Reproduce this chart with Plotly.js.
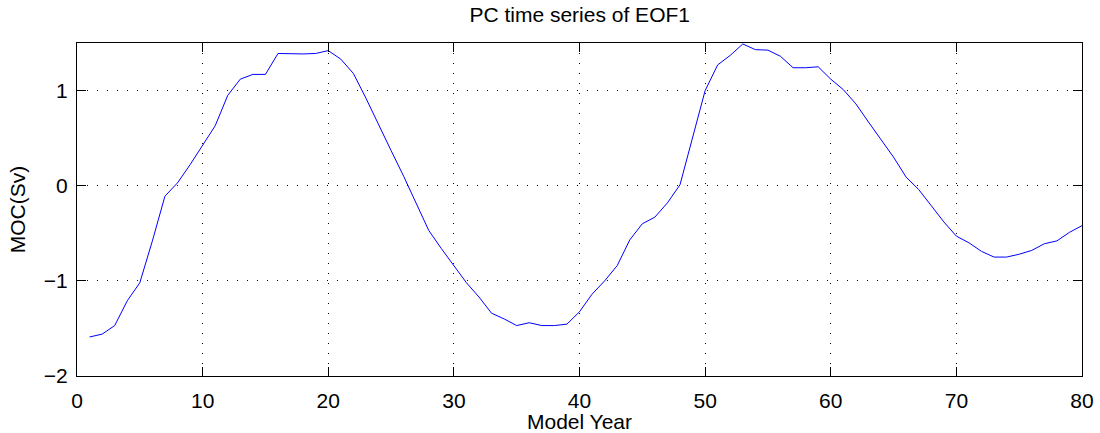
<!DOCTYPE html>
<html>
<head>
<meta charset="utf-8">
<script src="https://cdn.plot.ly/plotly-3.0.1.min.js"></script>
<style>html,body{margin:0;padding:0;background:#fff;}#chart{width:1100px;height:433px;}</style>
</head>
<body>
<div id="chart"></div>
<script>
const years = [];
for (let i = 1; i <= 80; i++) years.push(i);
const pcValues = [
  -1.59, -1.56, -1.47, -1.21, -1.02, -0.58, -0.11, 0.03, 0.22, 0.43,
  0.63, 0.95, 1.12, 1.17, 1.17, 1.39, 1.385, 1.385, 1.39, 1.42,
  1.33, 1.18, 0.92, 0.64, 0.37, 0.10, -0.18, -0.47, -0.66, -0.84,
  -1.02, -1.17, -1.34, -1.40, -1.47, -1.44, -1.47, -1.47, -1.455, -1.325,
  -1.14, -1.00, -0.84, -0.57, -0.40, -0.33, -0.18, 0.01, 0.51, 1.00,
  1.27, 1.37, 1.49, 1.43, 1.425, 1.36, 1.24, 1.24, 1.25, 1.12,
  1.01, 0.86, 0.67, 0.48, 0.30, 0.09, -0.04, -0.21, -0.38, -0.53,
  -0.60, -0.69, -0.75, -0.75, -0.72, -0.68, -0.61, -0.58, -0.49, -0.42
];
const chartTitle = 'PC time series of EOF1';
const xTitle = 'Model Year';
const yTitle = 'MOC(Sv)';

const font = {family: 'Liberation Sans, Arial, Helvetica, sans-serif', size: 21, color: '#000'};
const axisCommon = {
  showline: true, linecolor: '#000', linewidth: 1, mirror: 'allticks',
  ticks: 'inside', ticklen: 9, tickwidth: 1, tickcolor: '#000',
  showgrid: true, gridcolor: '#000', gridwidth: 1, griddash: '1px,9px',
  zeroline: false, tickfont: font
};

Plotly.newPlot('chart', [{
  x: years, y: pcValues, type: 'scatter', mode: 'lines',
  line: {color: '#0000ff', width: 1}, hoverinfo: 'skip'
}], {
  width: 1100, height: 433,
  margin: {l: 77, r: 18, t: 43, b: 57},
  paper_bgcolor: '#fff', plot_bgcolor: '#fff',
  showlegend: false,
  font: font,
  title: {text: chartTitle, font: font, x: 0.527, xanchor: 'center', y: 0.966, yanchor: 'middle'},
  xaxis: Object.assign({}, axisCommon, {
    range: [0, 80], tick0: 0, dtick: 10, ticklabelstandoff: 6,
    title: {text: xTitle, font: font, standoff: 2}
  }),
  yaxis: Object.assign({}, axisCommon, {
    range: [-2, 1.5], tick0: 0, dtick: 1, ticklabelstandoff: 4,
    title: {text: yTitle, font: font, standoff: 12}
  })
}, {staticPlot: true});
</script>
</body>
</html>
